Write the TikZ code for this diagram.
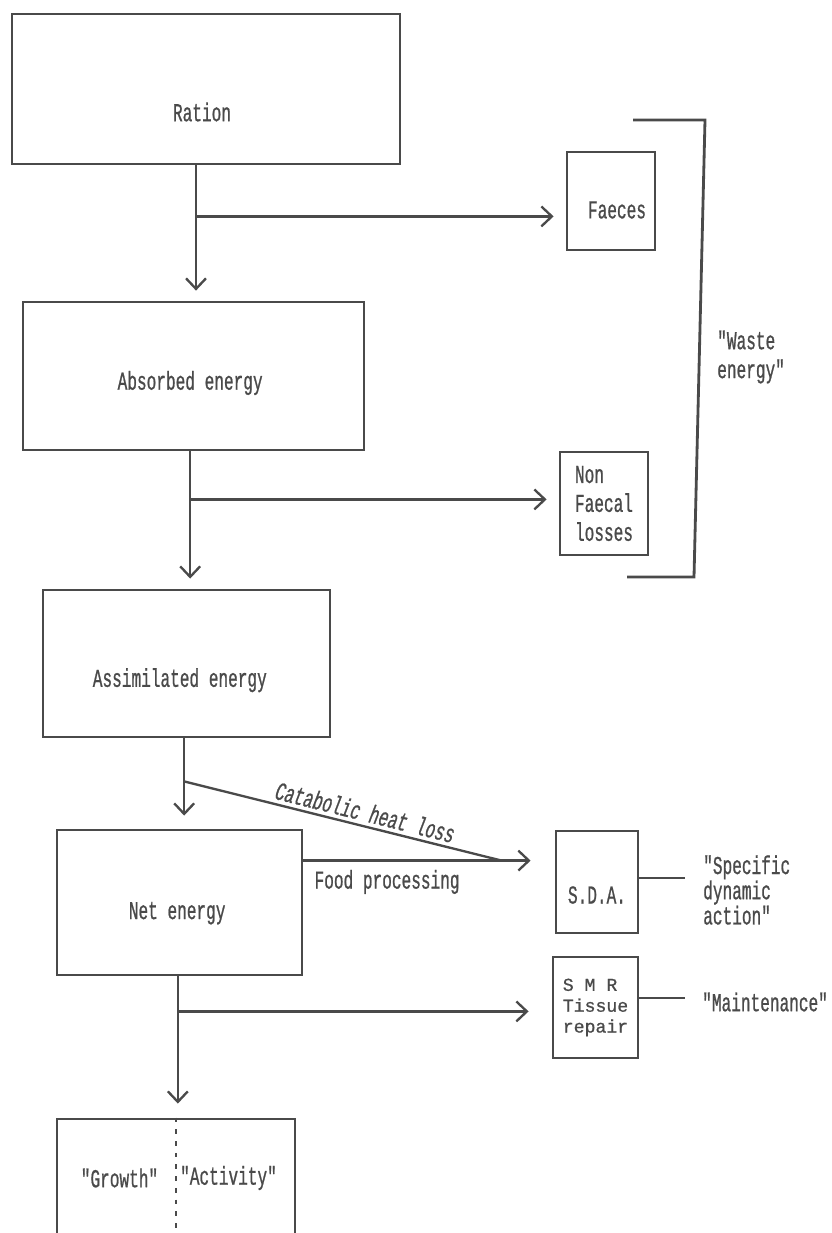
\documentclass[tikz,border=0pt]{standalone}
\usepackage{fontspec}
\newfontfamily\dotfont[FakeStretch=0.625, FakeBold=0.8]{Liberation Mono}
\newfontfamily\dotwide[FakeBold=0.8]{Liberation Mono}
\usetikzlibrary{arrows.meta, positioning, calc}
\definecolor{ink}{HTML}{4A4A4A}
\newcommand{\mono}[1][24]{\dotfont\fontsize{22}{#1}\selectfont}

\begin{document}
\begin{tikzpicture}[x=0.03cm, y=-0.03cm,
  box/.style={draw=ink, line width=2.4pt, inner sep=0pt},
  txt/.style={text=ink, font=\mono, inner sep=0pt},
  flow/.style={ink, line width=2pt, -{Straight Barb[length=9pt, width=17pt]}},
  link/.style={ink, line width=2pt}]
  \useasboundingbox (0,0) rectangle (831,1233);
  \clip (0,0) rectangle (831,1233);

  % Energy chain
  \node[box, minimum width=11.64cm, minimum height=4.5cm,
        label={[txt, xshift=-0.12cm, yshift=-0.69cm]center:Ration}] (ration) at (206,89) {};
  \node[box, minimum width=10.23cm, minimum height=4.44cm,
        label={[txt, xshift=-0.1cm, yshift=-0.21cm]center:Absorbed energy}] (absorbed) at (193.5,376) {};
  \node[box, minimum width=8.61cm, minimum height=4.41cm,
        label={[txt, xshift=-0.2cm, yshift=-0.5cm]center:Assimilated energy}] (assim) at (186.5,663.5) {};
  \node[box, minimum width=7.35cm, minimum height=4.35cm,
        label={[txt, xshift=-0.07cm, yshift=-0.32cm]center:Net energy}] (net) at (179.5,902.5) {};
  % Growth / activity (cut by the page edge)
  \node[box, minimum width=7.14cm, minimum height=4.8cm] (budget) at (176,1199) {};
  \draw[ink, line width=2pt, dash pattern=on 4pt off 6pt] (budget.north) -- (budget.south);
  \node[txt] (growth) at (119.5,1178) {"Growth"};
  \node[txt] (activity) at (228.5,1178) {"Activity"};

  % Losses
  \node[box, minimum width=2.64cm, minimum height=2.94cm,
        label={[txt, xshift=0.18cm, yshift=-0.27cm]center:Faeces}] (faeces) at (611,201) {};
  \node[box, txt, align=left, font={\mono[24.7]}, minimum width=2.64cm,
        minimum height=3.09cm] (nonfaecal) at (604,503.5) {Non\\Faecal\\losses};
  \node[box, minimum width=2.46cm, minimum height=3.06cm,
        label={[txt, yshift=-0.39cm]center:S.D.A.}] (sda) at (597,882) {};
  \node[box, txt, align=left, font={\dotwide\fontsize{15.5}{17.8}\selectfont}, minimum width=2.55cm,
        minimum height=3.03cm] (smr) at (595.5,1007.5) {S M R\\Tissue\\repair};

  % Side notes
  \draw[ink, line width=2.4pt] (633,120) -- (705,120) -- (694,577) -- (627,577);
  \node[txt, align=left, anchor=west, font={\mono[24.7]}] (waste) at (717,357) {"Waste\\energy"};
  \node[txt, align=left, anchor=west, font={\mono[19.6]}] (spec) at (703,890) {"Specific\\dynamic\\action"};
  \node[txt, anchor=west] (maint) at (702,1002) {"Maintenance"};

  % Arrows down the chain
  \draw[flow, shorten >=0.3cm] ([xshift=-0.3cm]ration.south) coordinate (r1) -- (r1 |- absorbed.north);
  \draw[flow, shorten >=0.3cm] ([xshift=-0.1cm]absorbed.south) coordinate (a1) -- (a1 |- assim.north);
  \draw[flow, shorten >=0.39cm] ([xshift=-0.07cm]assim.south) coordinate (a2) -- (a2 |- net.north);
  \draw[flow, shorten >=0.42cm] ([xshift=-0.05cm]net.south) coordinate (n1) -- (n1 |- budget.north);

  % Branches
  \draw[flow, shorten >=0.36cm] (r1) ++(0,51) coordinate (f1) -- (f1 -| faeces.west);
  \draw[flow, shorten >=0.36cm] (a1) ++(0,48) coordinate (f2) -- (f2 -| nonfaecal.west);
  \draw[flow, shorten >=0.69cm] (n1) ++(0,35) coordinate (f4) -- (f4 -| smr.west);
  \draw[flow, shorten >=0.72cm] (net.north east) ++(0,32) coordinate (fp) -- (fp -| sda.west)
    node[txt, pos=0, anchor=base west, xshift=0.3cm, yshift=-0.84cm] {Food processing};
  \coordinate (meet) at ($(fp -| sda.west)+(-53,0)$);
  \draw[link] (a2) ++(0,43) coordinate (f3) -- (meet)
    node[txt, font={\mono\itshape}, pos=0.56, sloped, above=3pt] {Catabolic heat loss};

  % Notes
  \draw[link, shorten >=0.54cm] (sda.east) ++(0,-4) coordinate (s1) -- (s1 -| spec.west);
  \draw[link, shorten >=0.51cm] (smr.east) ++(0,-9.5) coordinate (s2) -- (s2 -| maint.west);
\end{tikzpicture}
\end{document}
